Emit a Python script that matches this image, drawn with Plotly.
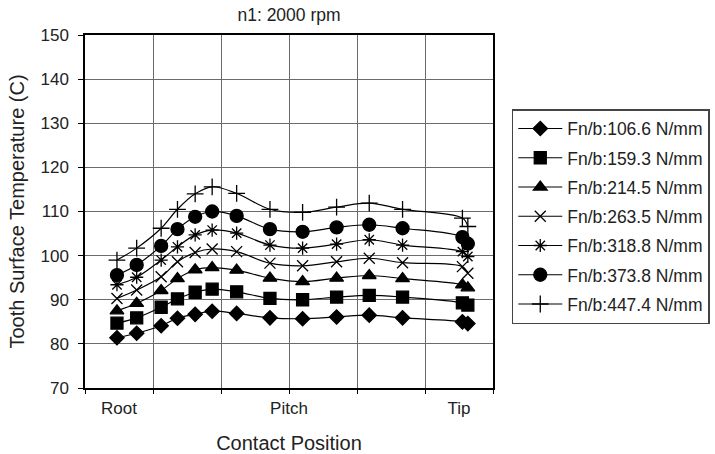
import plotly.graph_objects as go

# Contact position (axis units: 0..6, grid every 1)
contact_pos = [0.47, 0.76, 1.12, 1.36, 1.62, 1.87, 2.23, 2.72, 3.20, 3.70, 4.18, 4.67, 5.55, 5.63]

series_names = ["Fn/b:106.6 N/mm", "Fn/b:159.3 N/mm", "Fn/b:214.5 N/mm", "Fn/b:263.5 N/mm",
                "Fn/b:318.8 N/mm", "Fn/b:373.8 N/mm", "Fn/b:447.4 N/mm"]

temp_106 = [81.4, 82.4, 84.1, 85.8, 86.7, 87.4, 86.9, 85.9, 85.7, 86.1, 86.5, 85.9, 85.0, 84.6]
temp_159 = [84.7, 85.9, 88.3, 90.2, 91.7, 92.4, 91.8, 90.3, 90.0, 90.6, 91.0, 90.6, 89.3, 88.8]
temp_214 = [87.5, 89.2, 92.1, 94.8, 96.8, 97.3, 96.7, 94.9, 94.1, 94.9, 95.5, 94.8, 93.4, 92.7]
temp_263 = [90.3, 92.2, 95.2, 98.6, 100.7, 101.5, 100.9, 98.3, 97.7, 98.6, 99.4, 98.4, 97.5, 96.0]
temp_318 = [93.4, 95.1, 99.0, 102.0, 104.7, 105.8, 105.1, 102.4, 101.7, 102.6, 103.6, 102.4, 100.9, 99.8]
temp_373 = [95.6, 97.9, 102.2, 106.0, 108.8, 110.0, 109.0, 106.0, 105.4, 106.4, 107.0, 106.2, 104.2, 102.7]
temp_447 = [99.0, 101.7, 106.2, 110.5, 114.0, 115.6, 114.1, 110.5, 109.8, 111.0, 111.9, 110.5, 108.5, 106.6]

tick_vals = [0.5, 3, 5.5]
tick_text = ["Root", "Pitch", "Tip"]

all_series = [temp_106, temp_159, temp_214, temp_263, temp_318, temp_373, temp_447]
symbols = ["diamond", "square", "triangle-up", "x-thin", "asterisk", "circle", "cross-thin"]
sizes = [11, 12, 12, 11, 11, 13, 12]

FONT = "Liberation Sans, Arial, sans-serif"

fig = go.Figure()
for i, (name, ys) in enumerate(zip(series_names, all_series)):
    fig.add_trace(go.Scatter(
        x=contact_pos, y=ys, name=name, mode="lines+markers",
        legendgroup=f"g{i}",
        line=dict(color="black", width=1.2, shape="spline", smoothing=1),
        marker=dict(symbol=symbols[i], size=sizes[i], color="black",
                    line=dict(color="black", width=1.3)),
    ))

fig.update_layout(
    width=715, height=454,
    margin=dict(l=85, r=222, t=35, b=66, autoexpand=False),
    paper_bgcolor="white", plot_bgcolor="white",
    font=dict(family=FONT, size=17, color="#222"),
    title=dict(text="n1: 2000 rpm", x=(85 + 204) / 715, xanchor="center",
               y=1 - 15 / 454, yanchor="middle", font=dict(size=17.5, color="#222")),
    legend=dict(x=1.046, y=0.79, xanchor="left", yanchor="top",
                bordercolor="#444", borderwidth=1.5, bgcolor="white",
                font=dict(size=17.5, color="#222"), tracegroupgap=3.5,
                itemwidth=44),
    # Grid/tick axis (no labels) overlaid on the labelled x axis
    xaxis2=dict(overlaying="x", side="bottom", range=[0, 6], dtick=1, tick0=0,
                showticklabels=False, ticks="outside", ticklen=5, tickcolor="black",
                showgrid=True, gridcolor="#6a6a6a", gridwidth=1, zeroline=False,
                showline=False, automargin=False),
    xaxis=dict(
        range=[0, 6], tickmode="array", tickvals=tick_vals, ticktext=tick_text,
        ticks="", showgrid=False, zeroline=False,
        showline=True, linecolor="black", linewidth=1.5, mirror=True,
        title=dict(text="Contact Position", standoff=20),
        ticklabelstandoff=4, automargin=False,
    ),
)
fig.update_yaxes(
    range=[70, 150], dtick=10, ticks="outside", ticklen=5, tickcolor="black",
    showgrid=True, gridcolor="#6a6a6a", gridwidth=1, zeroline=False,
    showline=True, linecolor="black", linewidth=1.5, mirror=True,
    title=dict(text="Tooth Surface Temperature (C)", standoff=10),
    ticklabelstandoff=6, automargin=False,
)
# invisible helper trace so the grid axis is rendered
fig.add_trace(go.Scatter(x=[None], y=[None], xaxis="x2", yaxis="y", showlegend=False,
                         hoverinfo="skip"))

fig.write_html("out.html")
